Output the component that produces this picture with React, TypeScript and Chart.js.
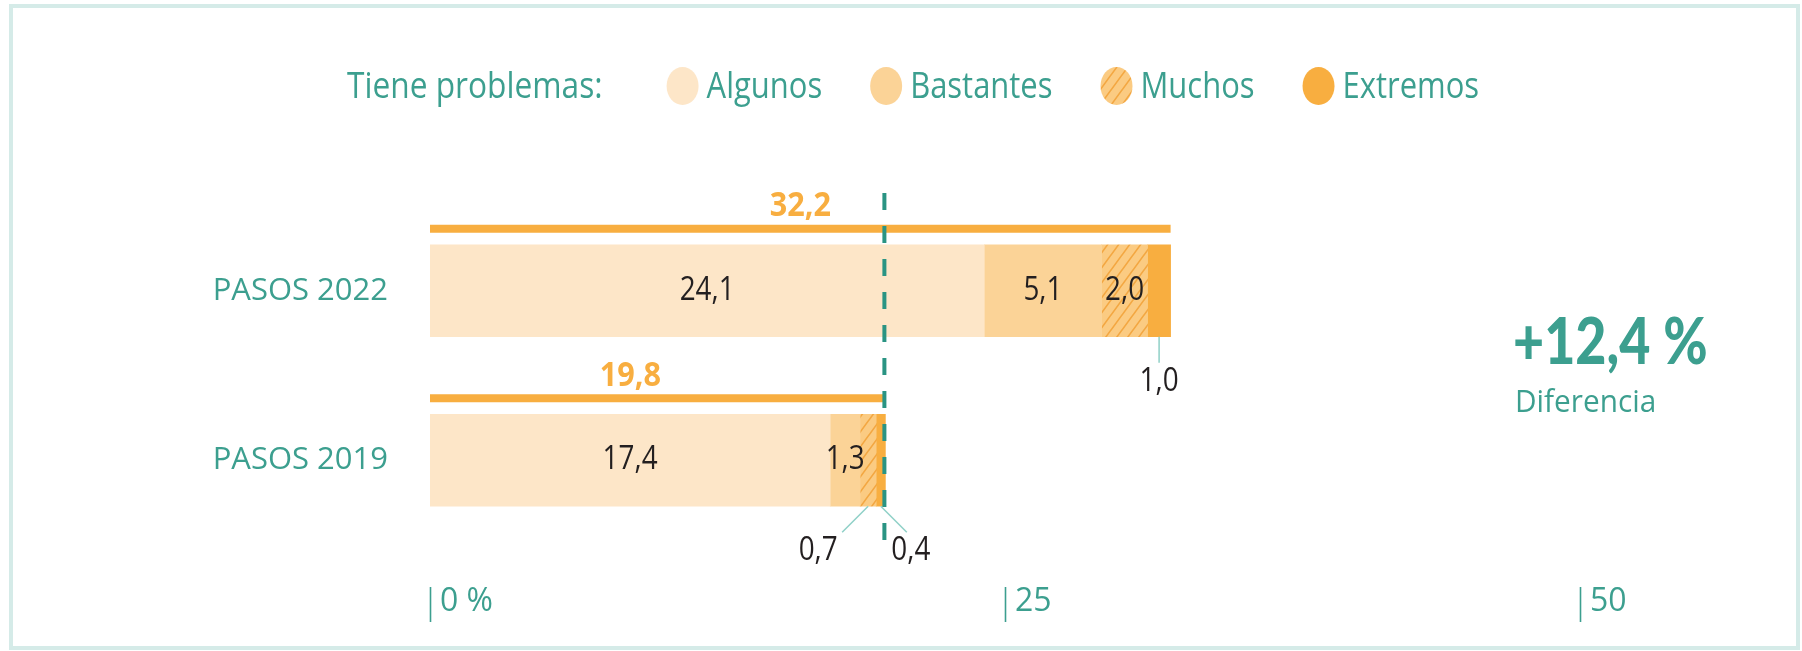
import React, { useEffect, useRef } from 'react';
import { Chart, registerables } from 'chart.js';

Chart.register(...registerables);

// ---------- data ----------
const categories = ['PASOS 2022', 'PASOS 2019'];
const seriesNames = ['Algunos', 'Bastantes', 'Muchos', 'Extremos'];
const algunos = [24.1, 17.4];
const bastantes = [5.1, 1.3];
const muchos = [2.0, 0.7];
const extremos = [1.0, 0.4];
const totals = [32.2, 19.8];
const xTicks = [0, 25, 50];
const xTickLabels = ['0 %', '25', '50'];
const legendTitle = 'Tiene problemas:';
const differenceLabel = 'Diferencia';

// ---------- styles ----------
const FONT = "'Open Sans', sans-serif";
const TEAL = '#3c9f8f';
const DARK_TEAL = '#2a9483';
const LEADER = '#8fd0c7';
const ORANGE = '#f8ae40';
const C_ALGUNOS = '#fde6c8';
const C_BASTANTES = '#fbd397';
const C_EXTREMOS = '#f8ae40';
const TEXT_DARK = '#231f20';

const fmt = (v: number) => v.toFixed(1).replace('.', ',');

// where the total label sits along its line (fraction of the total)
const totalLabelAnchor = [0.5, 0.44];
// small segments labelled below the bar with a leader line
const outsideLabels = [
  { ds: 3, i: 0, lineDx: 0, labelDx: 0 },
  { ds: 2, i: 1, lineDx: -26, labelDx: -50 },
  { ds: 3, i: 1, lineDx: 26, labelDx: 30 },
];

function makeHatch(): CanvasPattern | string {
  const c = document.createElement('canvas');
  const w = 11;
  const h = 15;
  c.width = w;
  c.height = h;
  const g = c.getContext('2d');
  if (!g) return '#fbcb82';
  g.fillStyle = '#fbcb82';
  g.fillRect(0, 0, w, h);
  g.strokeStyle = '#f3a742';
  g.lineWidth = 1.6;
  g.beginPath();
  g.moveTo(-w, 2 * h);
  g.lineTo(2 * w, -h);
  g.moveTo(-2 * w, 2 * h);
  g.lineTo(w, -h);
  g.moveTo(0, 2 * h);
  g.lineTo(3 * w, -h);
  g.stroke();
  const p = g.createPattern(c, 'repeat');
  return p || '#fbcb82';
}

function drawText(
  ctx: CanvasRenderingContext2D,
  text: string,
  x: number,
  y: number,
  font: string,
  color: string,
  align: 'left' | 'center' | 'right',
  sx = 1,
  baseline: CanvasTextBaseline = 'alphabetic'
) {
  ctx.save();
  ctx.font = font;
  ctx.fillStyle = color;
  ctx.textBaseline = baseline;
  ctx.textAlign = 'left';
  const w = ctx.measureText(text).width * sx;
  let left = x;
  if (align === 'center') left = x - w / 2;
  else if (align === 'right') left = x - w;
  ctx.translate(left, y);
  ctx.scale(sx, 1);
  ctx.fillText(text, 0, 0);
  ctx.restore();
  return w;
}

const overlayPlugin = {
  id: 'overlay',
  beforeDraw(chart: any) {
    const ctx: CanvasRenderingContext2D = chart.ctx;
    ctx.save();
    ctx.fillStyle = '#ffffff';
    ctx.fillRect(0, 0, chart.width, chart.height);
    ctx.strokeStyle = '#d5ebe8';
    ctx.lineWidth = 4;
    ctx.strokeRect(11, 6, chart.width - 15, chart.height - 9);
    ctx.restore();
  },
  afterDatasetsDraw(chart: any) {
    const ctx: CanvasRenderingContext2D = chart.ctx;
    const xs = chart.scales.x;
    const base = chart.getDatasetMeta(0);

    // total lines + total labels
    totals.forEach((t, i) => {
      const el = base.data[i];
      const top = el.y - el.height / 2;
      const lineY = top - 16;
      const x0 = xs.getPixelForValue(0);
      const x1 = xs.getPixelForValue(t);
      ctx.save();
      ctx.fillStyle = ORANGE;
      ctx.fillRect(x0, lineY - 4, x1 - x0, 8);
      ctx.restore();
      drawText(ctx, fmt(t), xs.getPixelForValue(t * totalLabelAnchor[i]), lineY - 22, `bold 34px ${FONT}`, ORANGE, 'center', 0.9, 'middle');
    });

    // segment labels
    chart.data.datasets.forEach((ds: any, di: number) => {
      const meta = chart.getDatasetMeta(di);
      meta.data.forEach((el: any, i: number) => {
        const v = ds.data[i] as number;
        const cx = (el.x + el.base) / 2;
        const out = outsideLabels.find((o) => o.ds === di && o.i === i);
        if (out) {
          const bottom = el.y + el.height / 2;
          ctx.save();
          ctx.strokeStyle = LEADER;
          ctx.lineWidth = 1.5;
          ctx.beginPath();
          ctx.moveTo(cx, bottom);
          ctx.lineTo(cx + out.lineDx, bottom + 26);
          ctx.stroke();
          ctx.restore();
          drawText(ctx, fmt(v), cx + out.labelDx, bottom + 45, `32px ${FONT}`, TEXT_DARK, 'center', 0.87, 'middle');
        } else {
          drawText(ctx, fmt(v), cx, el.y, `32px ${FONT}`, TEXT_DARK, 'center', 0.87, 'middle');
        }
      });
    });

    // dashed reference line at the 2019 total
    const dx = xs.getPixelForValue(totals[1]) - 1;
    ctx.save();
    ctx.strokeStyle = DARK_TEAL;
    ctx.lineWidth = 4;
    ctx.setLineDash([17, 16]);
    ctx.beginPath();
    ctx.moveTo(dx, 193);
    ctx.lineTo(dx, 541);
    ctx.stroke();
    ctx.restore();

    // tick bars on the x axis
    ctx.save();
    ctx.strokeStyle = TEAL;
    ctx.lineWidth = 1.6;
    xs.ticks.forEach((t: any) => {
      const px = Math.round(xs.getPixelForValue(t.value)) + 0.5;
      ctx.beginPath();
      ctx.moveTo(px, 587);
      ctx.lineTo(px, 622);
      ctx.stroke();
    });
    ctx.restore();
  },
  afterDraw(chart: any) {
    const ctx: CanvasRenderingContext2D = chart.ctx;
    // legend
    const ly = 98;
    let x = 347;
    const lf = `36px ${FONT}`;
    x += drawText(ctx, legendTitle, x, ly, lf, TEAL, 'left', 0.88) + 64;
    chart.data.datasets.forEach((ds: any) => {
      ctx.save();
      ctx.fillStyle = ds.backgroundColor;
      ctx.beginPath();
      ctx.ellipse(x + 16, 86, 16, 19, 0, 0, Math.PI * 2);
      ctx.fill();
      ctx.restore();
      x += 40;
      x += drawText(ctx, ds.label, x, ly, lf, TEAL, 'left', 0.86) + 48;
    });

    // difference
    const diff = totals[0] - totals[1];
    drawText(ctx, `+${fmt(diff)} %`, 1513, 364, `900 64px Lato, ${FONT}`, TEAL, 'left', 0.84);
    drawText(ctx, differenceLabel, 1515, 412, `31px ${FONT}`, TEAL, 'left', 0.96);
  },
};

export default function App() {
  const ref = useRef<HTMLCanvasElement | null>(null);

  useEffect(() => {
    document.body.style.margin = '0';
    const canvas = ref.current;
    if (!canvas) return;
    const hatch = makeHatch();
    const chart = new Chart(canvas, {
      type: 'bar',
      data: {
        labels: categories,
        datasets: [
          { label: seriesNames[0], data: algunos, backgroundColor: C_ALGUNOS },
          { label: seriesNames[1], data: bastantes, backgroundColor: C_BASTANTES },
          { label: seriesNames[2], data: muchos, backgroundColor: hatch as any },
          { label: seriesNames[3], data: extremos, backgroundColor: C_EXTREMOS },
        ],
      },
      options: {
        indexAxis: 'y',
        responsive: false,
        maintainAspectRatio: false,
        animation: false,
        devicePixelRatio: 1,
        layout: { padding: { top: 206, right: 222, left: 0, bottom: 0 } },
        datasets: { bar: { barThickness: 92, borderWidth: 0 } },
        plugins: {
          legend: { display: false },
          tooltip: { enabled: false },
          title: { display: false },
        },
        scales: {
          x: {
            type: 'linear',
            stacked: true,
            min: 0,
            max: 50,
            afterFit: (s: any) => {
              s.height = 106;
            },
            grid: { display: false, drawTicks: false },
            border: { display: false },
            ticks: {
              stepSize: 25,
              autoSkip: false,
              maxRotation: 0,
              align: 'start',
              labelOffset: 10,
              padding: 38,
              color: TEAL,
              font: { family: FONT, size: 32 },
              callback: (v: any) => {
                const k = xTicks.indexOf(Number(v));
                return k >= 0 ? xTickLabels[k] : '';
              },
            },
          },
          y: {
            type: 'category',
            stacked: true,
            afterFit: (s: any) => {
              s.width = 430;
            },
            grid: { display: false, drawTicks: false },
            border: { display: false },
            ticks: {
              padding: 42,
              color: TEAL,
              font: { family: FONT, size: 31 },
            },
          },
        },
      } as any,
      plugins: [overlayPlugin as any],
    });
    return () => chart.destroy();
  }, []);

  return (
    <div style={{ position: 'absolute', left: 0, top: 0, width: 1802, height: 651 }}>
      <canvas ref={ref} width={1802} height={651} style={{ display: 'block', width: 1802, height: 651 }} />
    </div>
  );
}
